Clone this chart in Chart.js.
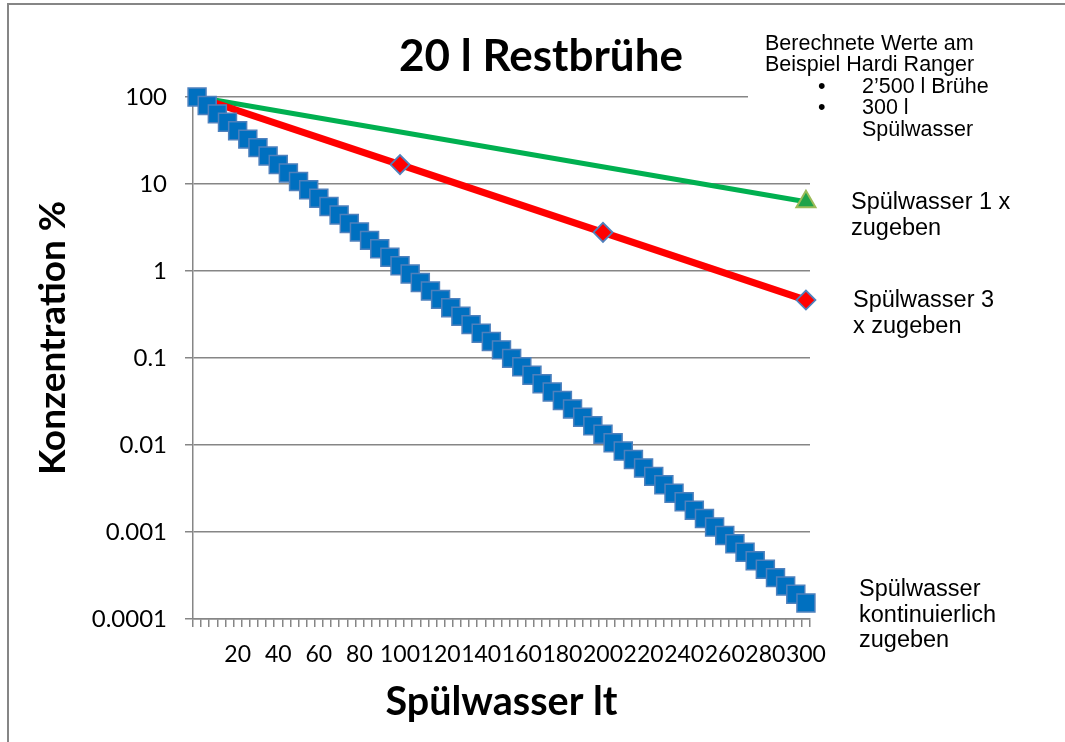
<!DOCTYPE html>
<html><head><meta charset="utf-8">
<script src="https://cdn.jsdelivr.net/npm/chart.js@4.4.0/dist/chart.umd.min.js"></script>
<style>html,body{margin:0;padding:0;background:#fff}#wrap{width:1065px;height:742px;position:relative}</style>
</head><body><div id="wrap"><canvas id="c"></canvas></div>
<script>
// ---- data ----
const blueX = [0,5,10,15,20,25,30,35,40,45,50,55,60,65,70,75,80,85,90,95,100,105,110,115,120,125,130,135,140,145,150,155,160,165,170,175,180,185,190,195,200,205,210,215,220,225,230,235,240,245,250,255,260,265,270,275,280,285,290,295,300];
const blueY = [100,80,64,51.2,41.0,32.8,26.2,21.0,16.8,13.4,10.7,8.59,6.87,5.50,4.40,3.52,2.81,2.25,1.80,1.44,1.15,0.922,0.738,0.590,0.472,0.378,0.302,0.242,0.193,0.155,0.124,0.0990,0.0792,0.0634,0.0507,0.0406,0.0325,0.0260,0.0208,0.0166,0.0133,0.0106,0.00851,0.00681,0.00545,0.00436,0.00349,0.00279,0.00223,0.00178,0.00143,0.00114,0.000914,0.000731,0.000585,0.000468,0.000374,0.000299,0.000240,0.000192,0.000153];
const redX = [0,100,200,300];
const redY = [100,16.7,2.78,0.463];
const greenX = [0,300];
const greenY = [100,6.25];
const xTickLabels = [20,40,60,80,100,120,140,160,180,200,220,240,260,280,300];
const yTickValues = [0.0001,0.001,0.01,0.1,1,10,100];
const yTickLabels = ['0.0001','0.001','0.01','0.1','1','10','100'];
const titleText = '20 l Restbrühe';
const yTitle = 'Konzentration %';
const xTitle = 'Spülwasser lt';
const noteLines = ['Berechnete Werte am','Beispiel Hardi Ranger'];
const noteBullets = [['2’500 l Brühe'],['300 l','Spülwasser']];
const label1 = ['Spülwasser 1 x','zugeben'];
const label3 = ['Spülwasser 3','x zugeben'];
const labelK = ['Spülwasser','kontinuierlich','zugeben'];

// ---- styles ----
const GRID = '#868686';
const X_MIN = -2, X_MAX = 302, X_STEP = 4;
const CAL = 'Lato, "Open Sans", sans-serif';
const ARIAL = '"Liberation Sans", Arial, sans-serif';

const pts = (xs, ys) => xs.map((x, i) => ({x, y: ys[i]}));

const decor = {
  id: 'decor',
  beforeDraw(chart) {
    const c = chart.ctx;
    c.save(); c.fillStyle = '#fff'; c.fillRect(0, 0, chart.width, chart.height); c.restore();
  },
  beforeDatasetsDraw(chart) {
    const c = chart.ctx;
    c.save();
    c.fillStyle = '#fff';
    c.fillRect(748, 22, 320, 125);
    c.fillStyle = '#000';
    c.font = '21.5px ' + ARIAL;
    c.textBaseline = 'middle';
    c.textAlign = 'left';
    let y = 44;
    noteLines.forEach(t => { c.fillText(t, 765, y); y += 21.5; });
    noteBullets.forEach(lines => {
      c.fillText('•', 818, y);
      lines.forEach(t => { c.fillText(t, 862, y); y += 21.5; });
    });
    c.restore();
  },
  afterDraw(chart) {
    const c = chart.ctx;
    c.save();
    c.strokeStyle = GRID; c.lineWidth = 2;
    c.beginPath(); c.moveTo(8, 2000); c.lineTo(8, 4); c.lineTo(2000, 4); c.stroke();
    c.fillStyle = '#000';
    c.textAlign = 'center'; c.textBaseline = 'middle';
    c.font = 'bold 44px ' + CAL;
    c.fillText(titleText, 541, 57);
    // y axis title
    c.save();
    c.translate(53, 338);
    c.rotate(-Math.PI / 2);
    c.font = 'bold 37px ' + CAL;
    c.fillText(yTitle, 0, 0);
    c.restore();
    c.textAlign = 'left';
    c.font = '23.5px ' + ARIAL;
    const drawLines = (lines, x, y, dy) => lines.forEach((t, i) => c.fillText(t, x, y + i * dy));
    drawLines(label1, 851, 203, 26);
    drawLines(label3, 853, 301, 26);
    drawLines(labelK, 859, 590, 25.5);
    c.restore();
  }
};

new Chart(document.getElementById('c'), {
  type: 'line',
  data: {
    datasets: [
      { label: 'Spülwasser kontinuierlich zugeben', data: pts(blueX, blueY),
        borderColor: '#0070C0', borderWidth: 2, backgroundColor: '#0070C0',
        pointStyle: 'rect', pointRadius: 12.7, pointBorderColor: '#4F81BD', pointBorderWidth: 1.5,
        clip: false },
      { label: 'Spülwasser 3 x zugeben', data: pts(redX, redY),
        borderColor: '#FF0000', borderWidth: 7, backgroundColor: '#FF0000',
        pointStyle: 'rectRot', pointRadius: [0, 9.5, 9.5, 9.5], pointBorderColor: '#4F81BD', pointBorderWidth: 1.8,
        clip: false },
      { label: 'Spülwasser 1 x zugeben', data: pts(greenX, greenY),
        borderColor: '#00B050', borderWidth: 5, backgroundColor: '#1FA34A',
        pointStyle: 'triangle', pointRadius: [0, 11], pointBorderColor: '#9BBB59', pointBorderWidth: 2,
        clip: false }
    ]
  },
  options: {
    responsive: true, maintainAspectRatio: false, animation: false, devicePixelRatio: 1,
    events: [],
    layout: { padding: { left: 0, top: 97, right: 255, bottom: 0 } },
    plugins: { legend: { display: false }, tooltip: { enabled: false }, title: { display: false } },
    scales: {
      x: {
        type: 'linear', min: X_MIN, max: X_MAX,
        afterBuildTicks: s => {
          const t = [];
          for (let v = X_MIN; v <= X_MAX + 1e-9; v += X_STEP) t.push({ value: v, mark: true });
          xTickLabels.forEach(v => t.push({ value: v, mark: false }));
          t.sort((a, b) => a.value - b.value);
          s.ticks = t;
        },
        afterFit: s => { s.height = 123; },
        ticks: {
          autoSkip: false, maxRotation: 0, minRotation: 0, padding: 14,
          color: '#000', font: { family: CAL, size: 23 },
          callback: (v, i, ticks) => ticks[i].mark ? '' : String(v)
        },
        grid: {
          drawOnChartArea: false, tickLength: 8, lineWidth: 1.5,
          tickColor: ctx => (ctx.tick && ctx.tick.mark) ? GRID : 'rgba(0,0,0,0)'
        },
        border: { display: true, color: GRID, width: 1.5 },
        title: { display: true, text: xTitle, color: '#000',
          font: { family: CAL, size: 39.5, weight: 'bold' }, padding: { top: 0, bottom: 16 } }
      },
      y: {
        type: 'logarithmic', min: 0.0001, max: 100,
        afterBuildTicks: s => { s.ticks = yTickValues.map(v => ({ value: v })); },
        afterFit: s => { s.width = 193; },
        ticks: {
          padding: 18, color: '#000', font: { family: CAL, size: 24 },
          callback: v => yTickLabels[yTickValues.indexOf(v)]
        },
        grid: { color: GRID, lineWidth: 1.5, tickLength: 8 },
        border: { display: true, color: GRID, width: 1.5 },
        title: { display: false }
      }
    }
  },
  plugins: [decor]
});
</script>
</body></html>
